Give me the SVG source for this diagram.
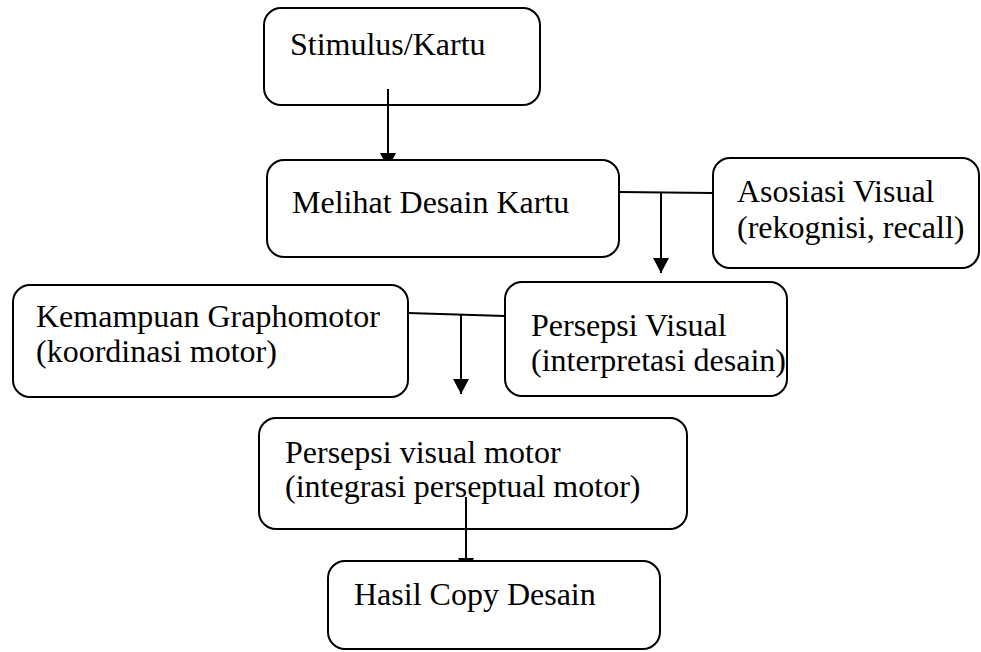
<svg xmlns="http://www.w3.org/2000/svg" width="981" height="652" viewBox="0 0 981 652">
<style>
.box{fill:#fff;stroke:#000;stroke-width:2}
.t{font-family:"Liberation Serif","Times New Roman",serif;font-size:32px;fill:#000}
.c{stroke:#000;stroke-width:2;fill:none}
</style>
<defs>
<marker id="ah" markerWidth="16" markerHeight="16" refX="15" refY="8" orient="auto" markerUnits="userSpaceOnUse">
<path d="M0,0 L15,8 L0,16 Z" fill="#000"/>
</marker>
</defs>
<rect width="981" height="652" fill="#fff"/>
<g id="n1"><rect class="box" x="264" y="8" width="276" height="97" rx="17"/><text class="t" x="290" y="55">Stimulus/Kartu</text></g>
<g id="n3"><rect class="box" x="713" y="158" width="266" height="110" rx="17"/><text class="t" x="737" y="202">Asosiasi Visual</text><text class="t" x="737" y="238">(rekognisi, recall)</text></g>
<g id="n4"><rect class="box" x="13" y="285" width="395" height="112" rx="17"/><text class="t" x="36" y="327">Kemampuan Graphomotor</text><text class="t" x="36" y="362">(koordinasi motor)</text></g>
<g id="n5"><rect class="box" x="505" y="282" width="282" height="114" rx="17"/><text class="t" x="531" y="336">Persepsi Visual</text><text class="t" x="531" y="371">(interpretasi desain)</text></g>
<g id="n6"><rect class="box" x="259" y="418" width="428" height="111" rx="17"/><text class="t" x="285" y="463">Persepsi visual motor</text><text class="t" x="285" y="497">(integrasi perseptual motor)</text></g>
<g id="connectors">
<line class="c" x1="388" y1="89" x2="388" y2="168" marker-end="url(#ah)"/>
<line class="c" x1="619" y1="192" x2="713" y2="193"/>
<line class="c" x1="661" y1="192" x2="661" y2="273" marker-end="url(#ah)"/>
<line class="c" x1="408" y1="313" x2="505" y2="316"/>
<line class="c" x1="461" y1="314" x2="461" y2="394" marker-end="url(#ah)"/>
<line class="c" x1="466" y1="497" x2="466" y2="573" marker-end="url(#ah)"/>
</g>
<g id="n2"><rect class="box" x="267" y="160" width="352" height="97" rx="17"/><text class="t" x="292" y="213">Melihat Desain Kartu</text></g>
<g id="n7"><rect class="box" x="328" y="561" width="332" height="88" rx="17"/><text class="t" x="354" y="605">Hasil Copy Desain</text></g>
</svg>
